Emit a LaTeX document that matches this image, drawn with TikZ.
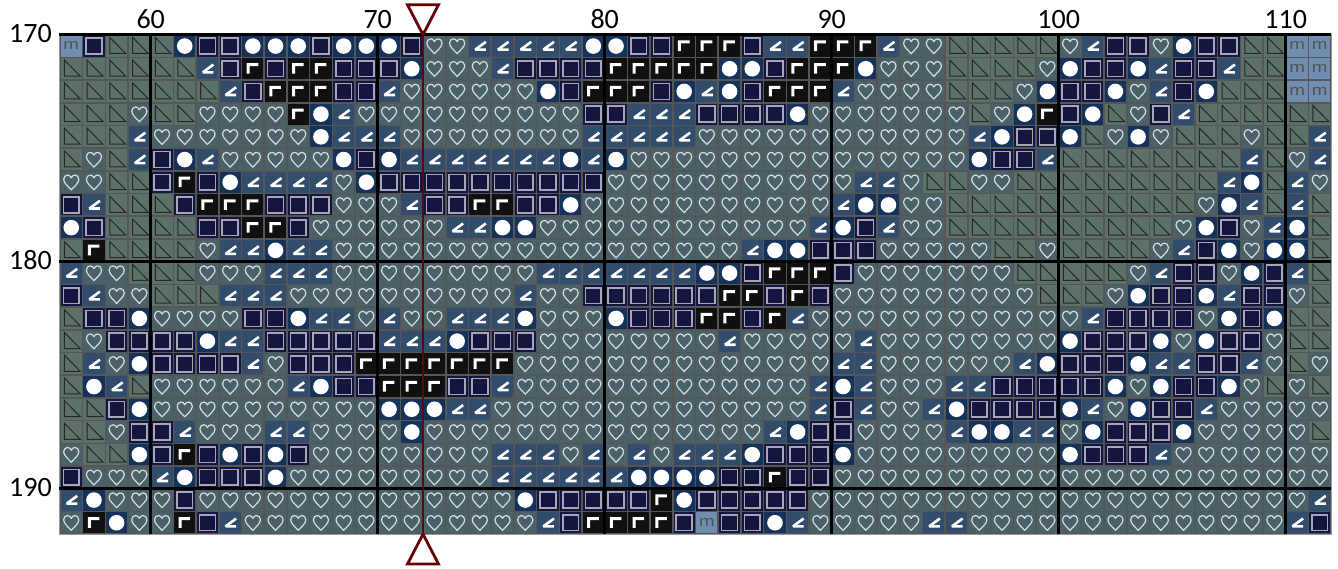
\documentclass[tikz,border=0pt]{standalone}
\usepackage{fontspec}
\usepackage{graphicx}
\newfontfamily\labfont{Carlito}
\newfontfamily\glyphfont{Liberation Sans}
\definecolor{cM}{HTML}{6F8EB0}
\definecolor{cT}{HTML}{5B7169}
\definecolor{cH}{HTML}{4A6168}
\definecolor{cA}{HTML}{324C6C}
\definecolor{cO}{HTML}{14325A}
\definecolor{cS}{HTML}{15163F}
\definecolor{cK}{HTML}{101010}
\definecolor{cGrid}{HTML}{565656}
\definecolor{cEdge}{HTML}{999999}
\definecolor{cMark}{HTML}{640404}
\tikzset{
  tickx/.style={font=\labfont\fontsize{28}{28}\selectfont,anchor=base,inner sep=0pt},
  ticky/.style={font=\labfont\fontsize{28}{28}\selectfont,anchor=base east,inner sep=0pt},
  decade/.style={draw=black,line width=2.9pt},
  marker/.style={draw=cMark,line width=2.8pt,fill=white,line join=miter},
  markline/.style={draw=cMark,line width=2.5pt},
  mglyph/.style={font=\glyphfont\fontsize{15}{15}\selectfont,text=black!68,inner sep=0pt},
}
\newcount\gx
\newcount\gy
\def\bgcell#1{\fill[#1] (-10.55,-10.55) rectangle (10.55,10.55);}
\def\cellM{\bgcell{cM}\node[mglyph] (m\the\gx x\the\gy) at (0,-0.2) {\scalebox{1.25}[1]{m}};}
\def\cellT{\bgcell{cT}\draw[black!85,line width=1pt,line join=miter] (-6.8,-8.6)--(-6.8,7.4)--(9,7.4)--cycle;}
\def\cellH{\bgcell{cH}\draw[white!78!cH,line width=1.2pt,line join=round]
  (0,7.6) .. controls (-2.6,4.6) and (-7.6,0.8) .. (-7.6,-2.9)
  .. controls (-7.6,-5.6) and (-5.6,-7.2) .. (-3.7,-7.2)
  .. controls (-2,-7.2) and (-0.7,-6) .. (0,-4.4)
  .. controls (0.7,-6) and (2,-7.2) .. (3.7,-7.2)
  .. controls (5.6,-7.2) and (7.6,-5.6) .. (7.6,-2.9)
  .. controls (7.6,0.8) and (2.6,4.6) .. (0,7.6) -- cycle;}
\def\cellA{\bgcell{cA}\draw[white,line width=2.6pt,line join=miter,miter limit=3] (6,-4.2)--(-4.6,3.6)--(6,3.6);}
\def\cellO{\bgcell{cO}\fill[white] (0,0) circle (7.8);}
\def\cellS{\bgcell{cS}\draw[white!62!cS,line width=1.6pt] (-7.9,-7.9) rectangle (7.9,7.9);}
\def\cellK{\bgcell{cK}\fill[white] (-6.2,-5.6)--(5.4,-5.6)--(5.4,-2.6)--(-3.2,-2.6)--(-3.2,5)--(-6.2,5)--cycle;}
\def\docell#1{%
  \pgfmathsetmacro\cx{59.9+22.7*(\the\gx+0.5)}%
  \pgfmathsetmacro\cy{34.7+22.7*(\the\gy+0.5)}%
  \begin{scope}[shift={(\cx,\cy)}]\csname cell#1\endcsname\end{scope}%
  \advance\gx by 1\relax}
\def\rowloop#1{\ifx#1\relax\else\docell{#1}\expandafter\rowloop\fi}
\def\gridrow#1{\gx=0\relax\rowloop#1\relax\advance\gy by 1\relax}
\begin{document}
\begin{tikzpicture}[x=1pt,y=-1pt]
\useasboundingbox (0,0) rectangle (1338,569);
\fill[white] (0,0) rectangle (1338,569);
\fill[cGrid] (59.9,34.7) rectangle (1331.1,534.1);
\gy=0\relax
\gridrow{MSTT TOSSOOOSOO OSHHAAAAAO OSSKKKSAAK KKAHHTTTTT HASSHOSSTT MM}
\gridrow{TTTT TTASKSKKSS SOHHHASSSS KKKKKOOSKK KOHHHTTTTH OSSOASSATT MM}
\gridrow{TTTT TTTASKKKSS AHHHHHHOSK KKSOAOSKKK AHHHHTTTHO SSOHASOTTT MM}
\gridrow{TTTH TTHHHHKOAH HHHHHHHHHS SAAASSSSOH HHHHHHTHOK SOTHSATTTT TT}
\gridrow{TTTA HHHHHHHOAA AHHHHHHHHA AAAAHHHHHH HHHHHHAOSS OTHOHTTTHT TA}
\gridrow{THTA SOAHHHHHOS OAAAAAAAOA OHHHHHHHHH HHHHHHOSSA TTTTTTTTAT HA}
\gridrow{HHTT SKSOAAAAHO SSSSSSSSSS HHHHHHHHHH HAAHTTHHTT TTTTTTTAOT AH}
\gridrow{SATT TSKKKSSSHH HASSKKSSOH HHHHHHHHHH AOOHHTTTTT TTTTTTHOAT AT}
\gridrow{OSTT TTSSKKSHHH HHHAAOOHHH HHHHHHHHHA OSAHHTTTTT TTTTTHOSHA OT}
\gridrow{TKTT TTHAAOAAHH HHHHHHHHHH HHHHHHAOOS SSHHHHHTTH TTTTHASOHO OT}
\gridrow{AHHT TTHHHAAAHH HHHHHHHAAA AAAAOOSKKK SHHHHHHHTT TTTHASSHOS AT}
\gridrow{SAHH TTTAAAHHHH HHHHHHAHHS SSSSSKKSKS HHHHHHHHHT TTHOSSOASS HT}
\gridrow{TSSO HHHHSSOAAH AHHAAAOHHH OSSSKKSKAH HHHHHHHHHH HASSSSHOSO TT}
\gridrow{THSS SSOAASSSSS AAAOSSSHHH HHHHHAHHHH HAHHHHHHHH OSSSOHOSSH TT}
\gridrow{TAHO SSSSAHSSSK KKKKKKHHHH HHHHHHHHHH AAHHHHHHAO SSSOAASSAH TH}
\gridrow{TOAT HHHHHHAOSS KKKSSAHHHH HHHHHHHHHA OAHHHAASSS SSOHOSSOHT HT}
\gridrow{TTSO HHHHHHHHHH OOOAAHHHHH HHHHHHHHHA SAHHAOSSSS OAHOSSAHHH HH}
\gridrow{TTHS SAHHHAAHHH HOHHHHHHHH HHHHHHHAOS SHHHHAOOAA HOSSSOHHHH HT}
\gridrow{HTTO SKSOSOSHHH HHHHHAAAHA HAHAAAOSSS OHHHHHHHHH OSSSAHHHHH HH}
\gridrow{SHHH AOSSSOHHHH HHHHHAAAAA AOOOOSSKSS HHHHHHHHHH HHHHHHHHHH HH}
\gridrow{AOHH HSHHHHHHHH HHHHHHOSSS SSKOSSSSSH HHHHHHHHHH HHHHHHHHHH HA}
\gridrow{HKOH HKSAHHHHHH HHHHHHHASK KKKSMSSOAH HHHHAAHHHH HHHHHHHHHH AS}
\draw[cEdge,line width=1pt] (59.9,34.7) rectangle (1331.1,534.1);
% decade lines
\foreach \v in {34.7,261.7,488.7}{\draw[decade] (59.4,\v)--(1331.1,\v);}
\foreach \u in {150.7,377.7,604.7,831.7,1058.7,1285.7}{\draw[decade] (\u,34.7)--(\u,533.6);}
% tick labels
\foreach \u/\t in {150.7/60,377.7/70,604.7/80,831.7/90,1058.7/100,1285.7/110}{\node[tickx] (col\t) at (\u,28.3) {\t};}
\foreach \v/\t in {34.7/170,261.7/180,488.7/190}{\node[ticky] (row\t) at (52,\v+8) {\t};}
% position marker
\coordinate (marktop) at (423,34.7);
\coordinate (markbot) at (423,534.1);
\draw[markline] (marktop)--(markbot);
\draw[marker] (407.5,4.8)--(438.5,4.8)--(marktop)--cycle;
\draw[marker] (407.5,564)--(438.5,564)--(markbot)--cycle;
\end{tikzpicture}
\end{document}
